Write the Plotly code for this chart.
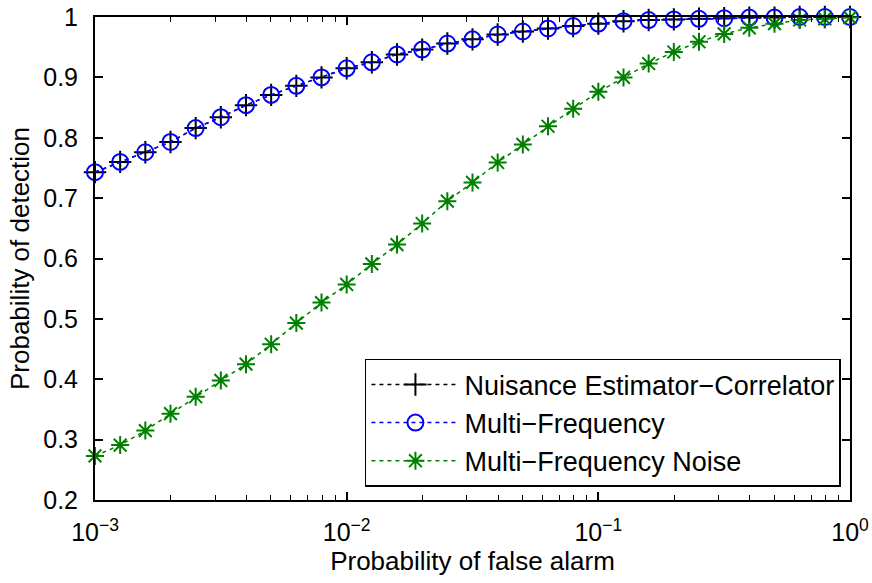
import plotly.graph_objects as go

# ROC curves: probability of false alarm (log scale) vs. probability of detection
pfa = [10 ** (-3 + k / 10) for k in range(31)]

pd_nuisance = [0.743, 0.760, 0.776, 0.793, 0.816, 0.834, 0.854, 0.871, 0.886, 0.900, 0.915,
               0.925, 0.938, 0.946, 0.956, 0.963, 0.971, 0.976, 0.981, 0.985, 0.989,
               0.993, 0.995, 0.996, 0.997, 0.998, 0.999, 0.999, 1.000, 1.000, 1.000]
pd_multifreq = [0.743, 0.760, 0.776, 0.793, 0.816, 0.834, 0.854, 0.871, 0.886, 0.900, 0.915,
                0.925, 0.938, 0.946, 0.956, 0.963, 0.971, 0.976, 0.981, 0.985, 0.989,
                0.993, 0.995, 0.996, 0.997, 0.998, 0.999, 0.999, 1.000, 1.000, 1.000]
pd_multifreq_noise = [0.273, 0.291, 0.315, 0.343, 0.371, 0.398, 0.425, 0.458, 0.493, 0.527, 0.557,
                      0.591, 0.623, 0.658, 0.695, 0.726, 0.759, 0.789, 0.819, 0.848, 0.876,
                      0.900, 0.923, 0.942, 0.959, 0.972, 0.982, 0.989, 0.995, 0.997, 0.999]

series_names = ["Nuisance Estimator\u2212Correlator", "Multi\u2212Frequency", "Multi\u2212Frequency Noise"]

x_tickvals = [1e-3, 1e-2, 1e-1, 1]
x_ticktext = ["10<sup>\u22123</sup>", "10<sup>\u22122</sup>", "10<sup>\u22121</sup>", "10<sup>0</sup>"]
y_tickvals = [0.2, 0.3, 0.4, 0.5, 0.6, 0.7, 0.8, 0.9, 1.0]
y_ticktext = ["0.2", "0.3", "0.4", "0.5", "0.6", "0.7", "0.8", "0.9", "1"]

x_minor = [m * 10 ** e for e in (-3, -2, -1) for m in range(2, 10)]

FONT = "Liberation Sans, Arial, Helvetica, sans-serif"

fig = go.Figure()
styles = [
    (pd_nuisance, "black", "cross-thin-open", 16),
    (pd_multifreq, "#0000ff", "circle-open", 16),
    (pd_multifreq_noise, "#008000", "asterisk-open", 15),
]
for (vals, color, symbol, size), name in zip(styles, series_names):
    fig.add_trace(go.Scatter(
        x=pfa, y=vals, name=name, mode="lines+markers",
        line=dict(color=color, width=1.5, dash="4px,4px"),
        marker=dict(symbol=symbol, size=size, color=color,
                    line=dict(color=color, width=2)),
        cliponaxis=False,
    ))

axis_common = dict(
    showline=True, linecolor="black", linewidth=2, mirror="ticks",
    ticks="inside", ticklen=8, tickcolor="black", tickwidth=1.5,
    showgrid=False, zeroline=False, automargin=False,
    tickfont=dict(family=FONT, size=25, color="black"),
    title_font=dict(family=FONT, size=26, color="black"),
)

fig.update_xaxes(
    type="log", range=[-3, 0], tickmode="array",
    tickvals=x_tickvals, ticktext=x_ticktext,
    minor=dict(ticks="inside", ticklen=5, tickcolor="black", tickwidth=1,
               tickmode="array", tickvals=x_minor, showgrid=False),
    ticklabelstandoff=9,
    title_text="Probability of false alarm", title_standoff=4,
    **axis_common,
)
fig.update_yaxes(
    range=[0.2, 1.0], tickmode="array",
    tickvals=y_tickvals, ticktext=y_ticktext,
    ticklabelstandoff=10,
    title_text="Probability of detection", title_standoff=6,
    **axis_common,
)

fig.update_layout(
    width=872, height=583,
    margin=dict(l=95, r=22, t=17, b=83),
    paper_bgcolor="white", plot_bgcolor="white",
    font=dict(family=FONT, size=26, color="black"),
    legend=dict(
        x=0.988, y=0.027, xanchor="right", yanchor="bottom",
        bgcolor="white", bordercolor="black", borderwidth=1.5,
        font=dict(family=FONT, size=27, color="black"),
        tracegroupgap=0, itemwidth=88,
    ),
    showlegend=True,
)

fig.write_html("out.html")
